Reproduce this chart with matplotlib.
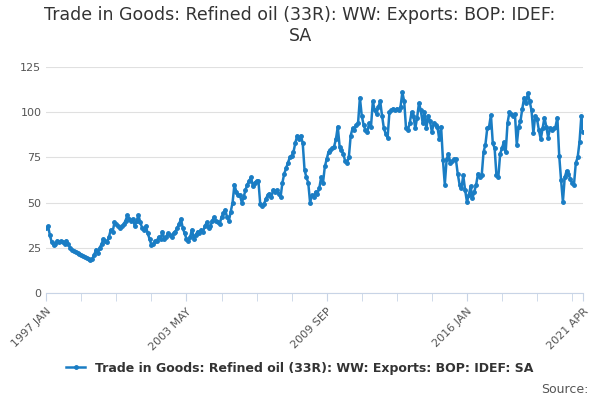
import numpy as np
import pandas as pd
import matplotlib
matplotlib.use("Agg")
import matplotlib.pyplot as plt

# Monthly values, 1997 JAN .. 2021 APR
values = [
    36, 37, 32, 28, 26.5, 27, 29, 28, 28.5, 28, 27, 29,
    27, 25, 24, 23, 22.5, 22, 21.5, 21, 20.5, 20, 19.5, 19,
    18.5, 19, 21, 24, 22, 25, 27, 30, 29, 28, 31, 35,
    34, 39, 38, 37, 36, 37, 38, 40, 43, 41, 40, 41,
    37, 40, 43, 39, 36, 35, 37, 33, 30, 26.5, 27, 28.5,
    29, 31, 30, 34, 30, 31, 33, 32, 31, 33, 34, 36,
    38, 41, 36, 33, 30, 29, 31, 35, 30, 32, 34, 33,
    35, 34, 37, 39, 36, 37, 40, 42, 40, 39, 38, 42,
    44, 46, 42, 40, 45, 50, 60, 56, 54, 54, 50, 53,
    57, 60, 62, 64, 59, 61, 62, 62, 49, 48, 49, 52,
    54, 55, 53, 57, 56, 57, 55, 53, 61, 66, 69, 72,
    75, 76, 78, 83, 87, 85, 87, 83, 68, 64, 61, 50,
    54, 53, 56, 55, 58, 64, 61, 70, 74, 78, 79, 80,
    81, 85, 92, 81, 79, 77, 73, 72, 75, 87, 91, 90,
    93, 94, 108, 98, 93, 90, 89, 94, 92, 106, 101, 99,
    103, 106, 98, 91, 88, 86, 100, 101, 102, 101, 102, 101,
    103, 111, 106, 91, 90, 94, 100, 98, 91, 97, 105, 101,
    94, 100, 91, 98, 95, 89, 94, 93, 92, 85, 92, 73.5,
    60, 74, 77, 72, 73, 74, 74, 66, 60, 58, 65, 57,
    50.5, 54, 59, 52.5, 56, 60, 66, 64, 65, 78, 82, 91,
    92, 98.5, 83, 80, 65, 64, 77, 80, 83.5, 78, 94, 100,
    99, 98, 99, 82, 92, 95, 102, 108, 105, 110.5, 106, 101,
    88.5, 98, 96, 90, 85, 91, 97, 92, 86, 91, 90, 91,
    92, 97, 76, 62.5, 50.5, 64, 67.5, 66, 63, 61, 60, 72,
    75, 83.5, 98, 89,
]
dates = pd.date_range("1997-01-01", periods=len(values), freq="MS")
labels = [d.strftime("%Y %b").upper() for d in dates]
label_idx = [0, 76, 152, 228, len(values) - 1]

color = "#1a7dc4"
fig = plt.figure(figsize=(6, 4), dpi=100)
ax = fig.add_axes([0.077, 0.2675, 0.895, 0.565])
x = np.arange(len(values))
ax.plot(x, values, color=color, lw=1.8, marker="o", ms=2.5)
ax.set_xlim(0, len(values) - 1)
ax.set_ylim(0, 125)
ax.set_yticks(range(0, 126, 25))
ax.yaxis.grid(True, color="#e0e0e0", lw=0.8)
ax.set_axisbelow(True)
ax.set_xticks(label_idx)
ax.set_xticklabels([labels[i] for i in label_idx], rotation=45,
                   ha="right", rotation_mode="anchor", fontsize=8, color="#555555")
ax.set_xticks(range(0, len(values), 19), minor=True)
ax.tick_params(axis="x", which="both", length=6, color="#c8d4e6")
ax.tick_params(axis="y", length=0, labelsize=8, labelcolor="#555555")
for s in ["top", "right", "left"]:
    ax.spines[s].set_visible(False)
ax.spines["bottom"].set_color("#c8d4e6")

fig.suptitle("Trade in Goods: Refined oil (33R): WW: Exports: BOP: IDEF:\nSA",
             y=0.985, fontsize=12.5, color="#333333")
ax.plot([], [], color=color, lw=1.8, marker="o", ms=2.5,
        label="Trade in Goods: Refined oil (33R): WW: Exports: BOP: IDEF: SA")
leg = fig.legend(loc="lower center", bbox_to_anchor=(0.5, 0.035), frameon=False,
                 prop={"weight": "bold", "size": 9}, handlelength=1.5)
for t in leg.get_texts():
    t.set_color("#333333")
fig.text(0.98, 0.01, "Source:", ha="right", va="bottom", fontsize=9, color="#555555")
fig.savefig("out.png")
